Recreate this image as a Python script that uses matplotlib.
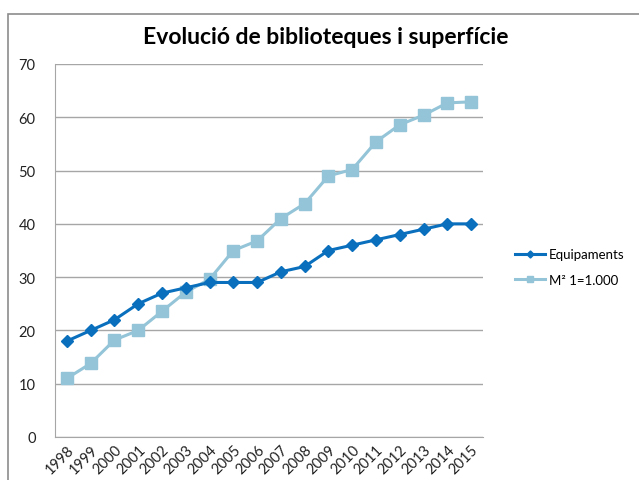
import matplotlib
matplotlib.use('Agg')
import matplotlib.pyplot as plt
from matplotlib.patches import Rectangle

plt.rcParams['font.family'] = ['Lato', 'DejaVu Sans']

# Data
years = ['1998', '1999', '2000', '2001', '2002', '2003', '2004', '2005', '2006',
         '2007', '2008', '2009', '2010', '2011', '2012', '2013', '2014', '2015']
equipaments = [18, 20, 22, 25, 27, 28, 29, 29, 29, 31, 32, 35, 36, 37, 38, 39, 40, 40]
superficie = [11, 13.8, 18.2, 20, 23.6, 27.2, 29.6, 35, 36.8, 41, 43.8, 49, 50.2,
              55.4, 58.6, 60.4, 62.7, 62.9]

fig = plt.figure(figsize=(6.39, 4.81), dpi=100)
fig.patches.append(Rectangle((8 / 639, -0.1), 1.1, 1 - 15 / 481 + 0.1,
                             transform=fig.transFigure, fill=False,
                             edgecolor='#8c8c8c', linewidth=1.2))

ax = fig.add_axes([55 / 639, 43 / 481, 428 / 639, 373 / 481])
x = range(len(years))
ax.plot(x, equipaments, color='#0a70be', linewidth=2.2, marker='D', markersize=6.5,
        label='Equipaments', zorder=3)
ax.plot(x, superficie, color='#93c4d7', linewidth=2.2, marker='s', markersize=9,
        label='M² 1=1.000', zorder=2)

ax.set_xlim(-0.5, len(years) - 0.5)
ax.set_ylim(0, 70)
ax.set_yticks(range(0, 71, 10))
ax.set_xticks(list(x))
ax.set_xticklabels(years, rotation=45, ha='right', rotation_mode='anchor')
ax.tick_params(length=0, labelsize=10.5, colors='#222222')
ax.tick_params(axis='y', pad=14)
ax.tick_params(axis='x', pad=4)
ax.grid(axis='y', color='#a6a6a6', linewidth=1)
ax.set_axisbelow(True)
for s in ['top', 'right']:
    ax.spines[s].set_visible(False)
ax.spines['left'].set_color('#a6a6a6')
ax.spines['bottom'].set_color('#a6a6a6')

fig.text(0.51, 0.922, 'Evolució de biblioteques i superfície', ha='center', va='center',
         fontsize=16.5, fontweight='bold')
fig.legend(loc='center left', bbox_to_anchor=(503 / 639, 1 - 268 / 481), frameon=False,
           fontsize=9.5, handlelength=2.3, handletextpad=0.3, labelspacing=1.0,
           markerscale=0.55)

fig.savefig('out.png', dpi=100)
